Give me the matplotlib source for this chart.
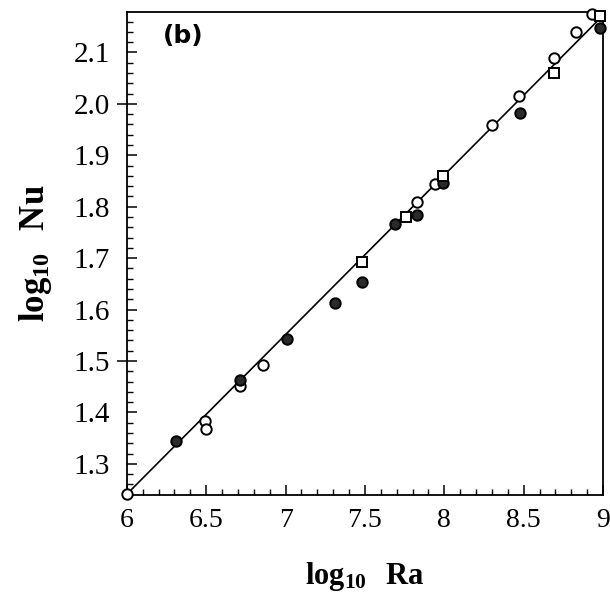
import matplotlib
matplotlib.use("Agg")
import matplotlib.pyplot as plt
from matplotlib.ticker import MultipleLocator, FixedLocator
import numpy as np

# --- data (log10 Ra, log10 Nu) ---
open_x = [6.00, 6.49, 6.50, 6.71, 6.86, 7.83, 7.94, 8.30, 8.47, 8.69, 8.83, 8.93]
open_y = [1.241, 1.383, 1.368, 1.451, 1.493, 1.810, 1.844, 1.958, 2.016, 2.090, 2.139, 2.175]

filled_x = [6.31, 6.71, 7.01, 7.31, 7.48, 7.69, 7.83, 7.99, 8.48, 8.98]
filled_y = [1.345, 1.463, 1.543, 1.613, 1.654, 1.767, 1.784, 1.847, 1.983, 2.147]

square_x = [7.48, 7.76, 7.99, 8.69, 8.98]
square_y = [1.692, 1.780, 1.860, 2.061, 2.170]

fit_x = [6.0, 9.0]
fit_y = [1.241, 2.172]

xticks = [6, 6.5, 7, 7.5, 8, 8.5, 9]
xticklabels = ["6", "6.5", "7", "7.5", "8", "8.5", "9"]
yticks = [1.3, 1.4, 1.5, 1.6, 1.7, 1.8, 1.9, 2.0, 2.1]
yticklabels = ["1.3", "1.4", "1.5", "1.6", "1.7", "1.8", "1.9", "2.0", "2.1"]

plt.rcParams['mathtext.fontset'] = 'custom'
plt.rcParams['mathtext.rm'] = 'Liberation Serif'
plt.rcParams['mathtext.bf'] = 'Liberation Serif:bold'

fig = plt.figure(figsize=(6.10, 5.93), dpi=100)
ax = fig.add_axes([0.208, 0.165, 0.7805, 0.815])

ax.plot(fit_x, fit_y, color='black', lw=1.2, zorder=2)
ax.plot(open_x, open_y, linestyle='none', marker='o', ms=7.5, mfc='white',
        mec='black', mew=1.4, zorder=3, clip_on=False)
ax.plot(filled_x, filled_y, linestyle='none', marker='o', ms=7.5, mfc='#2a2a2a',
        mec='black', mew=1.4, zorder=3, clip_on=False)
ax.plot(square_x, square_y, linestyle='none', marker='s', ms=7.5, mfc='white',
        mec='black', mew=1.4, zorder=4, clip_on=False)

ax.set_xlim(6.0, 9.0)
ax.set_ylim(1.239, 2.179)

ax.xaxis.set_major_locator(FixedLocator(xticks))
ax.set_xticklabels(xticklabels)
ax.xaxis.set_minor_locator(MultipleLocator(0.1))
ax.yaxis.set_major_locator(FixedLocator(yticks))
ax.set_yticklabels(yticklabels)
ax.yaxis.set_minor_locator(MultipleLocator(0.02))

ax.tick_params(axis='both', which='major', direction='in', length=7, width=1.1,
               top=False, right=False)
ax.tick_params(axis='both', which='minor', direction='in', length=4.5, width=1.0,
               top=False, right=False)
ax.tick_params(axis='y', which='major', pad=12, labelsize=21)
ax.tick_params(axis='x', which='major', pad=9, labelsize=20)
for lab in ax.get_xticklabels() + ax.get_yticklabels():
    lab.set_fontfamily('Liberation Serif')

# outward ticks at 1.5 and 2.0
sec = ax.secondary_yaxis('left')
sec.set_yticks([1.5, 2.0])
sec.tick_params(direction='out', length=7, width=1.1, labelleft=False)
sec.spines['left'].set_visible(False)

for s in ax.spines.values():
    s.set_linewidth(1.3)

ax.set_xlabel(r'$\mathbf{log_{10}}$  $\mathbf{Ra}$', fontsize=22, labelpad=20)
ax.set_ylabel(r'$\mathbf{log_{10}}$  $\mathbf{Nu}$', fontsize=25, labelpad=14)

ax.text(0.075, 0.975, '(b)', transform=ax.transAxes, fontsize=18,
        fontweight='bold', family='DejaVu Sans', va='top', ha='left')

fig.savefig('out.png', dpi=100)
